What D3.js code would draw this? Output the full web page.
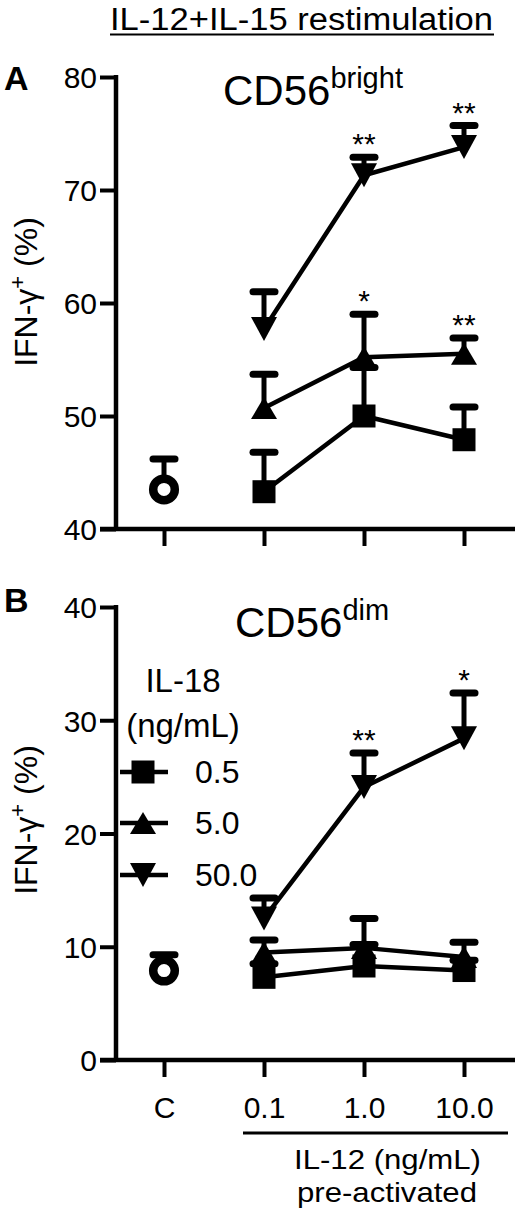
<!DOCTYPE html>
<html>
<head>
<meta charset="utf-8">
<script src="https://cdn.jsdelivr.net/npm/d3@7"></script>
<style>
  body { margin: 0; background: #fff; }
  text { font-family: "Liberation Sans", Arial, Helvetica, sans-serif; fill: #000; }
</style>
</head>
<body>
<div id="chart"></div>
<script>
// x categories (IL-12 pre-activation, C = control)
var xLabels = ["C", "0.1", "1.0", "10.0"];
var il18Labels = ["0.5", "5.0", "50.0"];
var symbols = ["square", "up", "down"];

// panel A: CD56bright, IFN-g+ %
var ctrlA = 43.5, ctrlSemA = 2.7;
var sqA = [43.3, 50.0, 47.9], sqSemA = [3.5, 4.3, 2.9];
var triA = [50.7, 55.2, 55.5], triSemA = [3.0, 3.8, 1.4];
var dtriA = [57.7, 71.3, 73.8], dtriSemA = [3.3, 1.6, 1.9];
var starsA = [[null, null, null], [null, "*", "**"], [null, "**", "**"]];

// panel B: CD56dim
var ctrlB = 7.9, ctrlSemB = 1.4;
var sqB = [7.3, 8.3, 7.9], sqSemB = [1.2, 1.9, 0.9];
var triB = [9.5, 9.9, 9.1], triSemB = [1.1, 2.6, 1.3];
var dtriB = [12.5, 24.1, 28.4], dtriSemB = [1.8, 3.0, 4.0];
var starsB = [[null, null, null], [null, null, null], [null, "**", "*"]];

var ticksA = [40, 50, 60, 70, 80];
var ticksB = [0, 10, 20, 30, 40];

var W = 520, H = 1220;
var svg = d3.select("#chart").append("svg")
    .attr("width", W)
    .attr("height", H);

var x = d3.scalePoint().domain(xLabels).range([164, 464]);

function symbolPath(type, cx, cy) {
  if (type === "square") {
    var s = 11.5;
    return "M" + (cx - s) + "," + (cy - s) + "h" + 2 * s + "v" + 2 * s + "h" + (-2 * s) + "Z";
  }
  if (type === "up") {
    return "M" + cx + "," + (cy - 11) + "L" + (cx + 13) + "," + (cy + 11) + "L" + (cx - 13) + "," + (cy + 11) + "Z";
  }
  return "M" + (cx - 13) + "," + (cy - 12) + "L" + (cx + 13) + "," + (cy - 12) + "L" + cx + "," + (cy + 12) + "Z";
}

function drawPanel(opt) {
  var y = d3.scaleLinear().domain(opt.domain).range(opt.range);
  var g = svg.append("g");

  // y axis
  var yAxis = d3.axisLeft(y).tickValues(opt.ticks).tickSize(16).tickPadding(3)
      .tickFormat(d3.format("d"));
  var ya = g.append("g").attr("transform", "translate(116,0)").call(yAxis);
  ya.select(".domain").remove();
  ya.selectAll(".tick line").attr("stroke", "#000").attr("stroke-width", 4);
  ya.selectAll(".tick text").style("font-size", "30px")
      .attr("dy", "0.36em").attr("fill", "#000");
  g.append("line")
      .attr("x1", 116).attr("x2", 116)
      .attr("y1", y(opt.domain[1]) - 2).attr("y2", y(opt.domain[0]) + 2)
      .attr("stroke", "#000").attr("stroke-width", 4.5);

  // x axis
  var xAxis = d3.axisBottom(x).tickSize(17).tickFormat(opt.showX ? null : "").tickPadding(20);
  var xa = g.append("g").attr("transform", "translate(0," + y(opt.domain[0]) + ")").call(xAxis);
  xa.select(".domain").remove();
  xa.selectAll(".tick line").attr("stroke", "#000").attr("stroke-width", 4);
  xa.selectAll(".tick text").style("font-size", "30px").attr("fill", "#000");
  g.append("line")
      .attr("x1", 100).attr("x2", 515)
      .attr("y1", y(opt.domain[0])).attr("y2", y(opt.domain[0]))
      .attr("stroke", "#000").attr("stroke-width", 4.5);

  // y label
  var yl = g.append("text")
      .attr("transform", "translate(37," + opt.labelY + ") rotate(-90)")
      .attr("text-anchor", "middle")
      .style("font-size", "32px");
  yl.append("tspan").text("IFN-\u03B3");
  yl.append("tspan").text("+").attr("baseline-shift", "super").style("font-size", "22px");
  yl.append("tspan").text(" (%)");

  // panel letter
  g.append("text").attr("x", 4).attr("y", opt.letterY)
      .style("font-size", "34px").style("font-weight", "bold").text(opt.letter);

  // subtitle
  var st = g.append("text").attr("x", opt.titleX).attr("y", opt.titleY)
      .style("font-size", "42px");
  st.append("tspan").text("CD56");
  st.append("tspan").text(opt.sup).attr("dy", -17).style("font-size", "29px");

  var xs = xLabels.slice(1);

  // connecting lines
  var line = d3.line().x(function(d, i) { return x(xs[i]); }).y(function(d) { return y(d); });
  opt.series.forEach(function(s) {
    g.append("path").attr("d", line(s.mean))
        .attr("fill", "none").attr("stroke", "#000").attr("stroke-width", 4.5);
  });

  // error bars (upper only)
  function errBar(cx, m, e) {
    g.append("line").attr("x1", cx).attr("x2", cx)
        .attr("y1", y(m)).attr("y2", y(m + e))
        .attr("stroke", "#000").attr("stroke-width", 5);
    g.append("line").attr("x1", cx - 11).attr("x2", cx + 11)
        .attr("y1", y(m + e)).attr("y2", y(m + e))
        .attr("stroke", "#000").attr("stroke-width", 7).attr("stroke-linecap", "round");
  }
  opt.series.forEach(function(s) {
    s.mean.forEach(function(m, i) { errBar(x(xs[i]), m, s.sem[i]); });
  });
  errBar(x("C"), opt.ctrl, opt.ctrlSem);

  // markers
  opt.series.forEach(function(s, si) {
    g.selectAll(null).data(s.mean).enter().append("path")
        .attr("d", function(d, i) { return symbolPath(symbols[si], x(xs[i]), y(d)); })
        .attr("fill", "#000");
  });
  g.append("circle").attr("cx", x("C")).attr("cy", y(opt.ctrl)).attr("r", 10.8)
      .attr("fill", "#fff").attr("stroke", "#000").attr("stroke-width", 8.5);

  // significance stars
  opt.series.forEach(function(s, si) {
    s.mean.forEach(function(m, i) {
      var st = opt.stars[si][i];
      if (!st) return;
      g.append("text").attr("x", x(xs[i])).attr("y", y(m + s.sem[i]) - 3)
          .attr("text-anchor", "middle").style("font-size", "30px").text(st);
    });
  });
  return y;
}

// top title
svg.append("text").attr("x", 110).attr("y", 30)
    .attr("textLength", 383).attr("lengthAdjust", "spacingAndGlyphs")
    .style("font-size", "31px").text("IL-12+IL-15 restimulation");
svg.append("line").attr("x1", 110).attr("x2", 494).attr("y1", 34.5).attr("y2", 34.5)
    .attr("stroke", "#000").attr("stroke-width", 2);

drawPanel({
  domain: [40, 80], range: [529, 77], ticks: ticksA, showX: false,
  labelY: 292, letter: "A", letterY: 90,
  titleX: 223, titleY: 105, sup: "bright",
  ctrl: ctrlA, ctrlSem: ctrlSemA, stars: starsA,
  series: [
    { mean: sqA, sem: sqSemA },
    { mean: triA, sem: triSemA },
    { mean: dtriA, sem: dtriSemA }
  ]
});

drawPanel({
  domain: [0, 40], range: [1060, 607], ticks: ticksB, showX: true,
  labelY: 820, letter: "B", letterY: 612,
  titleX: 235, titleY: 637, sup: "dim",
  ctrl: ctrlB, ctrlSem: ctrlSemB, stars: starsB,
  series: [
    { mean: sqB, sem: sqSemB },
    { mean: triB, sem: triSemB },
    { mean: dtriB, sem: dtriSemB }
  ]
});

// legend
svg.append("text").attr("x", 183).attr("y", 692).attr("text-anchor", "middle")
    .style("font-size", "33px").text("IL-18");
svg.append("text").attr("x", 183).attr("y", 737).attr("text-anchor", "middle")
    .style("font-size", "33px").text("(ng/mL)");
var legRows = [772, 823, 875];
il18Labels.forEach(function(lab, i) {
  var ly = legRows[i];
  svg.append("line").attr("x1", 120).attr("x2", 168).attr("y1", ly).attr("y2", ly)
      .attr("stroke", "#000").attr("stroke-width", 4.5);
  svg.append("path").attr("d", symbolPath(symbols[i], 143, ly)).attr("fill", "#000");
  svg.append("text").attr("x", 195).attr("y", ly + 11).style("font-size", "32px").text(lab);
});

// x-axis bracket and title
svg.append("line").attr("x1", 243).attr("x2", 508).attr("y1", 1133).attr("y2", 1133)
    .attr("stroke", "#000").attr("stroke-width", 3);
svg.append("text").attr("x", 294).attr("y", 1169)
    .attr("textLength", 187).attr("lengthAdjust", "spacingAndGlyphs")
    .style("font-size", "28px").text("IL-12 (ng/mL)");
svg.append("text").attr("x", 297).attr("y", 1202)
    .attr("textLength", 180).attr("lengthAdjust", "spacingAndGlyphs")
    .style("font-size", "28px").text("pre-activated");
</script>
</body>
</html>
